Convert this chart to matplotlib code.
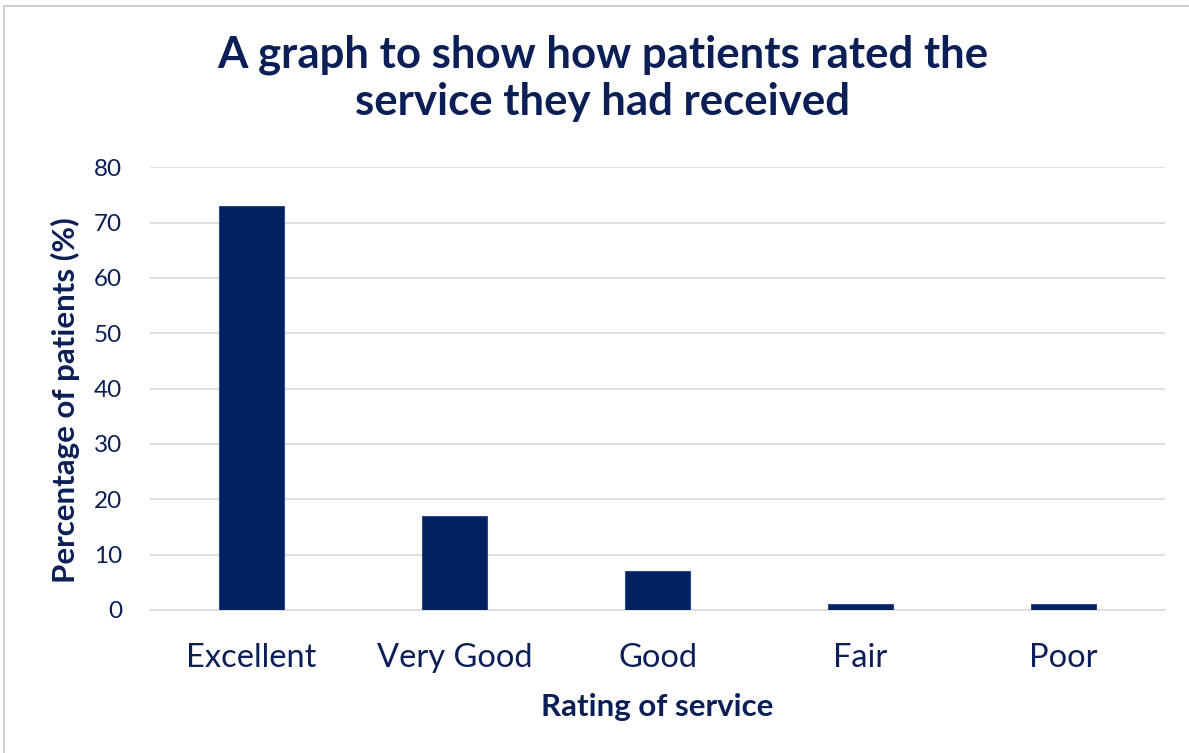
import matplotlib
matplotlib.use("Agg")
import matplotlib.pyplot as plt
from matplotlib.patches import Rectangle

ratings = ["Excellent", "Very Good", "Good", "Fair", "Poor"]
percent = [73, 17, 7, 1, 1]
y_ticks = [0, 10, 20, 30, 40, 50, 60, 70, 80]

navy = "#002060"
text_col = "#0B1F56"
grid_col = "#D9D9D9"

plt.rcParams["font.family"] = ["Lato", "DejaVu Sans"]

fig = plt.figure(figsize=(11.89, 7.53), dpi=100)
ax = fig.add_axes([0.126, 0.19, 0.854, 0.588])

x = range(len(ratings))
ax.bar(x, percent, width=0.32, color=navy, edgecolor="#2E4A8A", linewidth=0.8, zorder=3)

ax.set_xlim(-0.5, len(ratings) - 0.5)
ax.set_ylim(0, 80)
ax.set_yticks(y_ticks)
ax.set_xticks(list(x))
ax.set_xticklabels(ratings)
ax.yaxis.grid(True, color=grid_col, linewidth=1.2, zorder=0)
for s in ["top", "right", "left"]:
    ax.spines[s].set_visible(False)
ax.spines["bottom"].set_color(grid_col)
ax.spines["bottom"].set_linewidth(1.2)
ax.tick_params(axis="both", length=0, labelcolor=text_col)
ax.tick_params(axis="x", labelsize=23.5, pad=24)
ax.tick_params(axis="y", labelsize=17.5, pad=20)

ax.set_xlabel("Rating of service", fontsize=22.5, fontweight="bold", color=text_col, labelpad=14)
ax.set_ylabel("Percentage of patients (%)", fontsize=22.5, fontweight="bold", color=text_col,
              labelpad=10, y=0.473)

# two title lines placed separately to match the line gap
fig.text(0.507, 0.927, "A graph to show how patients rated the",
         ha="center", va="center", fontsize=31.5, fontweight="bold", color=text_col)
fig.text(0.507, 0.864, "service they had received",
         ha="center", va="center", fontsize=31.5, fontweight="bold", color=text_col)

# chart border
fig.patches.append(Rectangle((0.003, -0.01), 1.1, 1.002, transform=fig.transFigure,
                             fill=False, edgecolor="#D0D0D0", linewidth=1.5))

fig.savefig("out.png", dpi=100)
